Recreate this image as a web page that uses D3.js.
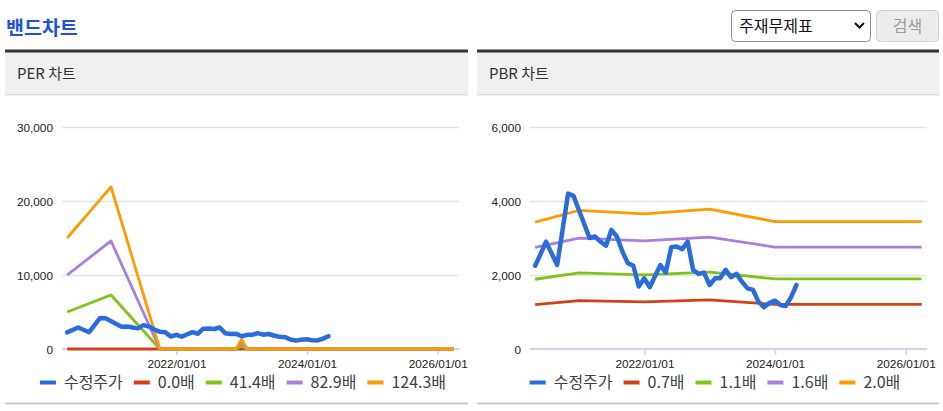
<!DOCTYPE html>
<html><head><meta charset="utf-8">
<script src="https://cdn.jsdelivr.net/npm/d3@7"></script>
<style>
body{margin:0;background:#fff}
svg{display:block}
</style>
</head><body>
<svg id="c" width="943" height="411"></svg>
<script>
// ---------------- data ----------------
const pageTitle = "밴드차트";
const selectLabel = "주재무제표";
const buttonLabel = "검색";
const panelTitles = ["PER 차트", "PBR 차트"];
const priceLabel = "수정주가";

const priceDates = ["2020-04-30","2020-06-30","2020-08-31","2020-10-31","2020-11-30",
  "2021-02-28","2021-03-31","2021-04-30","2021-05-31","2021-06-30","2021-07-31","2021-08-31",
  "2021-09-30","2021-10-31","2021-11-30","2021-12-31","2022-01-31","2022-02-28","2022-03-31",
  "2022-04-30","2022-05-31","2022-06-30","2022-07-31","2022-08-31","2022-09-30","2022-10-31",
  "2022-11-30","2022-12-31","2023-01-31","2023-02-28","2023-03-31","2023-04-30","2023-05-31",
  "2023-06-30","2023-07-31","2023-08-31","2023-09-30","2023-10-31","2023-11-30","2023-12-31",
  "2024-01-31","2024-02-29","2024-03-31","2024-04-30"];
const priceValues = [2250,2900,2270,4200,4140,
  3000,3040,2900,2790,3220,3040,2630,
  2320,2250,1690,1910,1670,1960,2270,
  2065,2750,2770,2700,2900,2140,2030,
  2065,1730,1910,1910,2140,1940,2030,
  1820,1640,1600,1280,1130,1240,1310,
  1190,1160,1400,1730];

const perBandDates = ["2020-04-30","2020-12-31","2021-09-30","2022-11-30","2022-12-31","2023-01-31","2026-03-31"];
const perBandLabels = ["0.0배","41.4배","82.9배","124.3배"];
const perBand0 = [0,0,0,0,0,0,0];
const perBand1 = [5000,7300,0,0,435,0,0];
const perBand2 = [10000,14600,0,0,870,0,0];
const perBand3 = [15000,21900,0,0,1300,0,0];

const pbrBandDates = ["2020-04-30","2020-12-31","2021-12-31","2022-12-31","2023-12-31","2026-03-31"];
const pbrBandLabels = ["0.7배","1.1배","1.6배","2.0배"];
const pbrBand0 = [1200,1310,1275,1325,1205,1205];
const pbrBand1 = [1885,2060,2005,2080,1895,1895];
const pbrBand2 = [2745,2995,2920,3025,2755,2755];
const pbrBand3 = [3430,3745,3650,3780,3445,3445];

const xTickDates = ["2022-01-01","2024-01-01","2026-01-01"];
const perYTicks = [0,10000,20000,30000];
const pbrYTicks = [0,2000,4000,6000];

// ---------------- drawing ----------------
const parse = d3.timeParse("%Y-%m-%d");
const fmtTick = d3.timeFormat("%Y/%m/%d");
const fmtNum = d3.format(",");
const priceColor = "#2b6cdd";
const bandColors = ["#d2401a","#82c21c","#a97fdc","#ff9a00"];
const svg = d3.select("#c");
const FONT = "'Noto Sans CJK KR','Noto Sans',sans-serif";
const AXFONT = "'Liberation Sans',Arial,sans-serif";

// header
svg.append("text").attr("x",6).attr("y",35).text(pageTitle)
  .attr("font-family",FONT).attr("font-weight","bold").attr("font-size",19.5)
  .attr("fill","#2452d6");
svg.append("rect").attr("x",731.5).attr("y",10.5).attr("width",139).attr("height",31).attr("rx",4)
  .attr("fill","#fff").attr("stroke","#8f8f8f");
svg.append("text").attr("x",739).attr("y",32).text(selectLabel)
  .attr("font-family",FONT).attr("font-size",16).attr("fill","#111");
svg.append("path").attr("d","M855,23 L859.5,27.5 L864,23").attr("fill","none")
  .attr("stroke","#111").attr("stroke-width",2);
svg.append("rect").attr("x",876.5).attr("y",10.5).attr("width",62).attr("height",31).attr("rx",4)
  .attr("fill","#ececec").attr("stroke","#d2d2d2");
svg.append("text").attr("x",907.5).attr("y",32).attr("text-anchor","middle").text(buttonLabel)
  .attr("font-family",FONT).attr("font-size",16).attr("fill","#9a9a9a");

const panels = [
  {px:5, pw:463, title:panelTitles[0], left:62, right:459, yMax:30000, yTicks:perYTicks,
   bandDates:perBandDates, bands:[perBand0,perBand1,perBand2,perBand3], labels:perBandLabels},
  {px:477, pw:462, title:panelTitles[1], left:530, right:927, yMax:6000, yTicks:pbrYTicks,
   bandDates:pbrBandDates, bands:[pbrBand0,pbrBand1,pbrBand2,pbrBand3], labels:pbrBandLabels}
];

const xDomain = [parse("2020-04-01"), parse("2026-04-30")];

panels.forEach(p => {
  const g = svg.append("g");
  g.append("rect").attr("x",p.px).attr("y",52).attr("width",p.pw).attr("height",43).attr("fill","#f0f0f0");
  g.append("rect").attr("x",p.px).attr("y",49.5).attr("width",p.pw).attr("height",3).attr("fill","#333");
  g.append("rect").attr("x",p.px).attr("y",94).attr("width",p.pw).attr("height",1.5).attr("fill","#dcdcdc");
  g.append("text").attr("x",p.px+12).attr("y",79).text(p.title)
    .attr("font-family",FONT).attr("font-size",15).attr("fill","#333");
  g.append("rect").attr("x",p.px).attr("y",402.5).attr("width",p.pw).attr("height",2).attr("fill","#c8c8c8");

  const x = d3.scaleTime().domain(xDomain).range([p.left,p.right]);
  const y = d3.scaleLinear().domain([0,p.yMax]).range([349,127]);

  // y axis with gridlines
  const ya = g.append("g").attr("transform",`translate(${p.left},0)`)
    .call(d3.axisLeft(y).tickValues(p.yTicks).tickFormat(fmtNum)
      .tickSize(-(p.right-p.left)).tickPadding(9));
  ya.select(".domain").remove();
  ya.selectAll("line").attr("stroke","#e3e3e3").attr("stroke-width",1.5);
  ya.selectAll("text").attr("font-family",AXFONT).attr("font-size",11.8).attr("fill","#222").attr("dy","0.36em");

  // x axis
  const xa = g.append("g").attr("transform","translate(0,349)")
    .call(d3.axisBottom(x).tickValues(xTickDates.map(parse)).tickFormat(fmtTick)
      .tickSize(6).tickPadding(5).tickSizeOuter(0));
  xa.select(".domain").attr("stroke","#cbd5e3").attr("stroke-width",2)
    .attr("d",`M${p.left},0H${p.right}`);
  xa.selectAll(".tick line").attr("stroke","#cbd5e3").attr("stroke-width",1.5);
  xa.selectAll("text").attr("font-family",AXFONT).attr("font-size",11.8).attr("fill","#222");

  // bands
  const bd = p.bandDates.map(parse);
  const line = d3.line().x(d=>x(d[0])).y(d=>y(d[1]));
  p.bands.forEach((vals,i) => {
    g.append("path").datum(vals.map((v,j)=>[bd[j],v]))
      .attr("d",line).attr("fill","none").attr("stroke",bandColors[i])
      .attr("stroke-width",2.8).attr("stroke-linejoin","round");
  });
  // price
  const pd = priceDates.map(parse);
  g.append("path").datum(priceValues.map((v,j)=>[pd[j],v]))
    .attr("d",line).attr("fill","none").attr("stroke",priceColor)
    .attr("stroke-width",4.5).attr("stroke-linejoin","round").attr("stroke-linecap","round");

  // legend
  const items = [{label:priceLabel,color:priceColor}].concat(p.labels.map((l,i)=>({label:l,color:bandColors[i]})));
  const lg = g.append("g");
  let cx = 0;
  items.forEach(it => {
    const ig = lg.append("g").attr("transform",`translate(${cx},0)`);
    ig.append("rect").attr("x",0).attr("y",-2).attr("width",16).attr("height",4).attr("fill",it.color);
    const t = ig.append("text").attr("x",24).attr("y",0).attr("dy","0.36em").text(it.label)
      .attr("font-family",FONT).attr("font-size",16).attr("fill","#3b3f4a");
    cx += 24 + t.node().getComputedTextLength() + 11;
  });
  const totalW = cx - 11;
  lg.attr("transform",`translate(${p.px + 238 - totalW/2},382.5)`);
});
</script>
</body></html>
